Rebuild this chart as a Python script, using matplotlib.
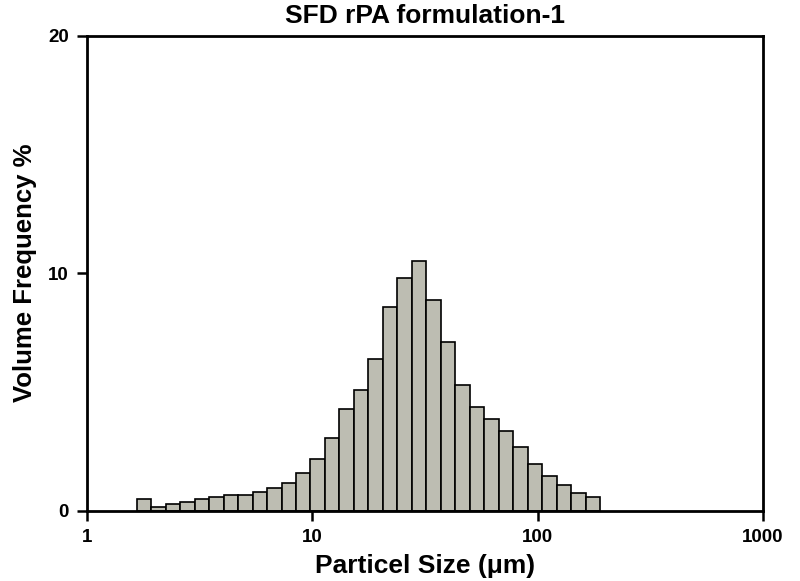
import matplotlib
matplotlib.use('Agg')
import matplotlib.pyplot as plt
import numpy as np
from matplotlib.ticker import FixedLocator, FixedFormatter, NullLocator

plt.rcParams['font.family'] = ['Liberation Sans', 'DejaVu Sans']
plt.rcParams['font.weight'] = 'bold'

# size class edges (um)
bin_edges = [1.667, 1.932, 2.240, 2.597, 3.011, 3.492, 4.048, 4.692, 5.440,
             6.308, 7.313, 8.479, 9.831, 11.40, 13.21, 15.32, 17.76, 20.59,
             23.87, 27.68, 32.09, 37.21, 43.14, 50.02, 57.99, 67.24, 77.95,
             90.36, 104.8, 121.5, 140.8, 163.3, 189.4]
# volume frequency (%) per size class
volume_freq = [0.48, 0.16, 0.28, 0.37, 0.48, 0.58, 0.68, 0.68, 0.78, 0.96,
               1.17, 1.57, 2.17, 3.06, 4.28, 5.08, 6.40, 8.59, 9.80, 10.50,
               8.89, 7.11, 5.30, 4.38, 3.87, 3.36, 2.68, 1.98, 1.47, 1.07,
               0.76, 0.56]

x_ticks = [1, 10, 100, 1000]
x_labels = ['1', '10', '100', '1000']
y_ticks = [0, 10, 20]

fig = plt.figure(figsize=(8, 5.81), dpi=100)
ax = fig.add_axes([0.1084, 0.1210, 0.8454, 0.8176])

edges = np.array(bin_edges)
ax.bar(edges[:-1], volume_freq, width=np.diff(edges), align='edge',
       color='#bdbdb2', edgecolor='black', linewidth=1.2, zorder=2)

ax.set_xscale('log')
ax.set_xlim(1, 1000)
ax.set_ylim(0, 20)
ax.xaxis.set_major_locator(FixedLocator(x_ticks))
ax.xaxis.set_major_formatter(FixedFormatter(x_labels))
ax.xaxis.set_minor_locator(NullLocator())
ax.set_yticks(y_ticks)

for s in ax.spines.values():
    s.set_linewidth(2)
ax.tick_params(axis='both', direction='out', length=7, width=1.8,
               labelsize=13.5)
ax.tick_params(axis='x', pad=6)
ax.tick_params(axis='y', pad=6)
for lbl in ax.get_xticklabels() + ax.get_yticklabels():
    lbl.set_fontweight('bold')

ax.set_xlabel('Particel Size (\u03bcm)', fontsize=19, fontweight='bold', labelpad=6)
ax.set_ylabel('Volume Frequency %', fontsize=18.5, fontweight='bold', labelpad=8)
ax.set_title('SFD rPA formulation-1', fontsize=19, fontweight='bold', pad=9)

plt.savefig('out.png', dpi=100)
